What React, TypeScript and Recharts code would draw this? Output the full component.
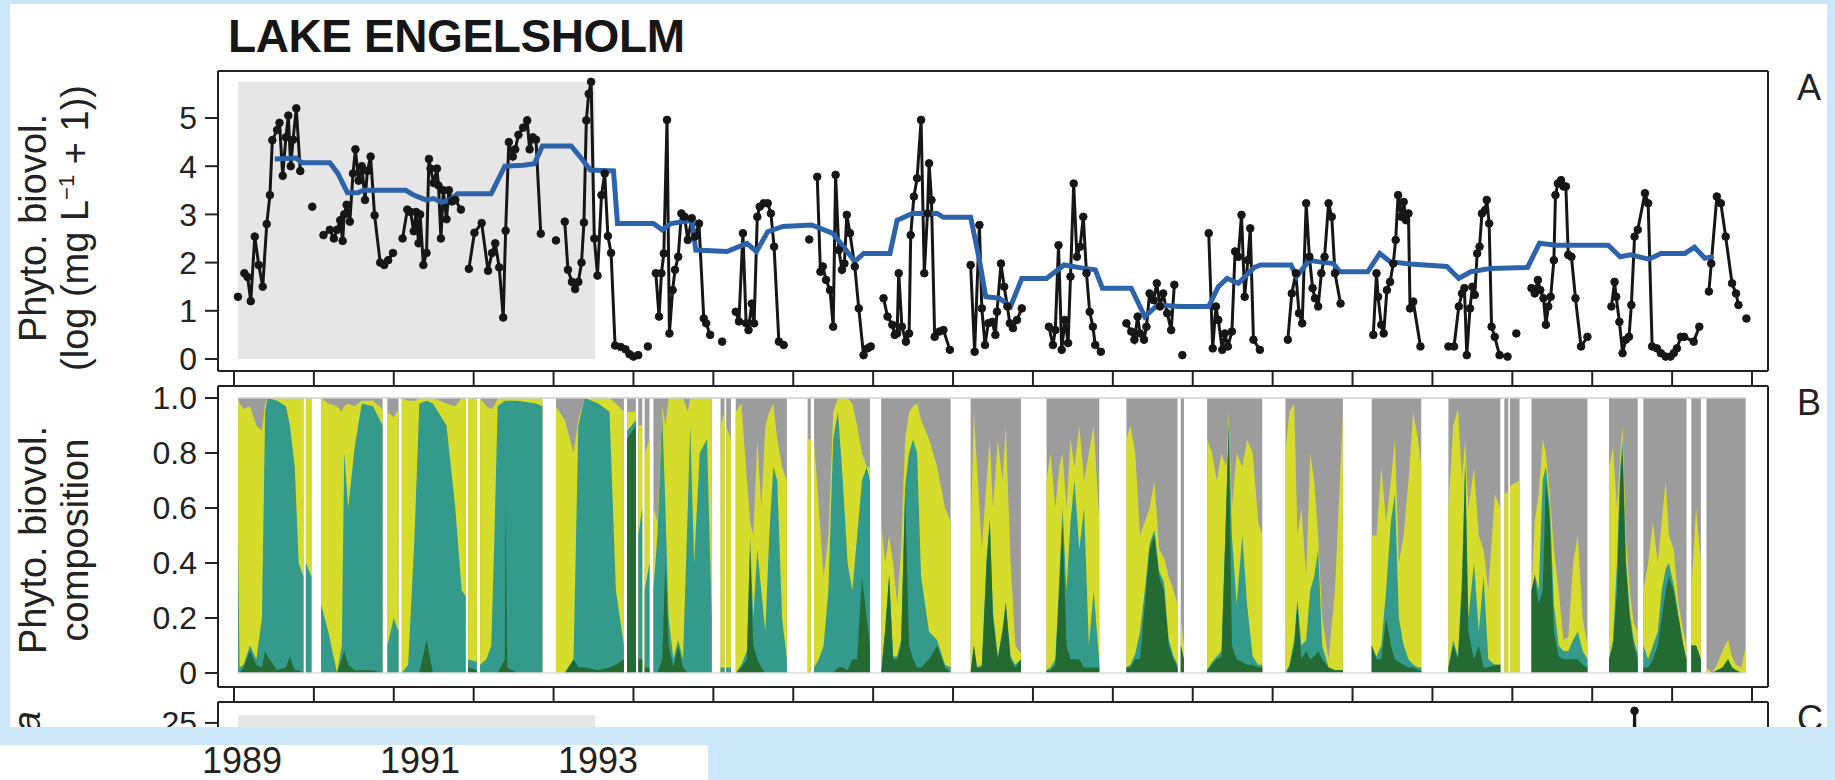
import React from "react";
import { Area, AreaChart, Line, LineChart, ReferenceArea, ReferenceLine, XAxis, YAxis } from "recharts";

const FONT = "'Liberation Sans', Arial, Helvetica, sans-serif";
const INK = "#222";
const PAGE_BG = "#cbe7f9";
const SHADE = "#e6e6e6";
const BLUE = "#2d63aa";
const DARK_GREEN = "#236b33";
const TEAL = "#349a8c";
const YELLOW = "#d5dc2b";
const GRAY = "#9c9c9c";

const YEARS = [1989, 1990, 1991, 1992, 1993, 1994, 1995, 1996, 1997, 1998, 1999, 2000, 2001, 2002, 2003, 2004, 2005, 2006, 2007, 2008];
const X_DOMAIN: [number, number] = [1988.8, 2008.2];
const BIO_TICKS = [0, 1, 2, 3, 4, 5];
const COMP_TICKS = [0, 0.2, 0.4, 0.6, 0.8, 1];
const CHL_TICKS = [0, 5, 10, 15, 20, 25];
const BOTTOM_YEARS = ["1989", "1991", "1993"];

// shaded early period (years) and its height in panel A / C units
const shadedPeriod = [1989.05, 1993.52];
const shadedTopA = 5.75;
const shadedTopC = 25.7;

// panel A: sampled biovolume, null = break in the line
const bioPoints: [number, number | null][] = [
  [1989.05, 1.29], [1989.09, null],
  [1989.13, 1.78], [1989.17, 1.7], [1989.21, 1.2], [1989.26, 2.54], [1989.31, 1.95], [1989.36, 1.5],
  [1989.41, 2.8], [1989.45, 3.4], [1989.48, 4.54], [1989.54, 4.75], [1989.57, 4.9], [1989.61, 3.8],
  [1989.65, 4.6], [1989.68, 5.05], [1989.71, 4.0], [1989.74, 4.55], [1989.78, 5.2], [1989.83, 3.9],
  [1989.9, null], [1989.98, 3.16], [1990.05, null],
  [1990.12, 2.57], [1990.2, 2.68], [1990.25, 2.5], [1990.29, 2.68], [1990.33, 2.88], [1990.36, 2.45],
  [1990.38, 3.0], [1990.41, 3.2], [1990.45, 2.85], [1990.49, 3.85], [1990.52, 4.35], [1990.56, 3.7],
  [1990.6, 4.0], [1990.64, 3.3], [1990.67, 3.9], [1990.71, 4.2], [1990.76, 2.98], [1990.83, 2.0],
  [1990.88, 1.95], [1990.93, 2.05], [1990.99, 2.2], [1991.05, null],
  [1991.11, 2.5], [1991.17, 3.1], [1991.21, 3.05], [1991.25, 2.65], [1991.28, 3.05], [1991.31, 2.4],
  [1991.33, 3.0], [1991.37, 1.95], [1991.41, 2.2], [1991.44, 4.15], [1991.46, 3.95], [1991.5, 3.65],
  [1991.54, 3.95], [1991.56, 3.6], [1991.59, 2.5], [1991.62, 3.5], [1991.66, 2.9], [1991.69, 3.5],
  [1991.73, 3.27], [1991.77, 3.3], [1991.84, 3.1], [1991.89, null],
  [1991.94, 1.87], [1992.01, 2.62], [1992.1, 2.82], [1992.18, 1.83], [1992.23, 2.2], [1992.27, 2.4],
  [1992.32, 1.9], [1992.37, 0.86], [1992.4, 2.66], [1992.44, 4.5], [1992.49, 4.2], [1992.52, 4.35],
  [1992.56, 4.65], [1992.62, 4.8], [1992.67, 4.95], [1992.7, 4.35], [1992.74, 4.6], [1992.78, 4.55],
  [1992.84, 2.6], [1992.94, null], [1993.03, 2.46], [1993.09, null],
  [1993.14, 2.85], [1993.18, 1.85], [1993.23, 1.6], [1993.27, 1.45], [1993.31, 1.6], [1993.35, 2.0],
  [1993.38, 2.83], [1993.41, 4.95], [1993.44, 5.5], [1993.47, 5.75], [1993.51, 2.5], [1993.55, 1.73],
  [1993.6, 3.4], [1993.64, 3.85], [1993.68, 2.55], [1993.72, 2.2], [1993.77, 0.28], [1993.84, 0.25],
  [1993.9, 0.2], [1993.95, 0.1], [1994.0, 0.05], [1994.06, 0.08], [1994.12, null], [1994.18, 0.26], [1994.23, null],
  [1994.28, 1.78], [1994.32, 0.88], [1994.35, 1.78], [1994.38, 2.19], [1994.42, 4.96], [1994.45, 0.53],
  [1994.49, 1.43], [1994.52, 1.85], [1994.56, 2.12], [1994.6, 3.02], [1994.64, 2.95], [1994.68, 2.47],
  [1994.73, 2.92], [1994.77, 2.54], [1994.82, 2.81], [1994.88, 0.84], [1994.91, 0.74], [1994.96, 0.5],
  [1995.03, null], [1995.11, 0.36], [1995.2, null],
  [1995.28, 0.98], [1995.32, 0.78], [1995.37, 2.61], [1995.41, 0.74], [1995.44, 0.6], [1995.48, 1.15],
  [1995.51, 0.74], [1995.55, 2.95], [1995.58, 3.16], [1995.63, 3.23], [1995.68, 3.23], [1995.72, 3.02],
  [1995.76, 2.33], [1995.82, 0.36], [1995.88, 0.29], [1996.05, null], [1996.2, 2.48], [1996.25, null],
  [1996.3, 3.78], [1996.34, 1.81], [1996.37, 1.92], [1996.41, 1.64], [1996.46, 1.43], [1996.5, 0.67],
  [1996.53, 3.82], [1996.57, 2.26], [1996.61, 1.85], [1996.64, 1.98], [1996.67, 2.99], [1996.71, 2.61],
  [1996.77, 1.92], [1996.82, 1.05], [1996.88, 0.08], [1996.93, 0.22], [1996.97, 0.26], [1997.05, null],
  [1997.13, 1.26], [1997.18, 0.88], [1997.24, 0.71], [1997.27, 0.5], [1997.3, 0.53], [1997.32, 1.78],
  [1997.36, 0.67], [1997.41, 0.36], [1997.45, 0.53], [1997.47, 2.57], [1997.51, 3.37], [1997.55, 3.75],
  [1997.6, 4.96], [1997.64, 1.78], [1997.68, 3.02], [1997.7, 4.06], [1997.73, 3.3], [1997.77, 0.46],
  [1997.83, 0.57], [1997.88, 0.6], [1997.96, 0.19], [1998.1, null],
  [1998.22, 1.95], [1998.27, 0.15], [1998.33, 2.78], [1998.36, 1.05], [1998.4, 0.29], [1998.44, 0.74],
  [1998.49, 0.77], [1998.53, 0.5], [1998.55, 0.98], [1998.6, 1.98], [1998.64, 1.5], [1998.68, 1.09],
  [1998.71, 0.74], [1998.75, 0.64], [1998.8, 0.81], [1998.86, 1.05], [1999.0, null],
  [1999.2, 0.67], [1999.25, 0.29], [1999.28, 0.6], [1999.32, 2.36], [1999.36, 0.19], [1999.4, 0.81],
  [1999.44, 0.33], [1999.47, 1.71], [1999.51, 3.64], [1999.55, 2.12], [1999.59, 2.33], [1999.63, 2.95],
  [1999.67, 1.78], [1999.71, 0.98], [1999.75, 0.67], [1999.78, 0.29], [1999.85, 0.15], [2000.0, null],
  [2000.17, 0.74], [2000.23, 0.57], [2000.27, 0.4], [2000.31, 0.88], [2000.34, 0.53], [2000.39, 0.4],
  [2000.42, 0.67], [2000.46, 1.36], [2000.51, 1.22], [2000.55, 1.57], [2000.59, 1.09], [2000.63, 1.36],
  [2000.68, 0.95], [2000.73, 0.6], [2000.77, 1.54], [2000.82, null], [2000.87, 0.08], [2001.0, null],
  [2001.2, 2.61], [2001.25, 0.22], [2001.29, 1.09], [2001.32, 0.81], [2001.37, 0.19], [2001.4, 0.53],
  [2001.44, 0.26], [2001.49, 0.57], [2001.53, 2.23], [2001.57, 2.12], [2001.61, 2.99], [2001.65, 1.29],
  [2001.69, 2.05], [2001.72, 2.71], [2001.76, 0.4], [2001.84, 0.19], [2002.0, null],
  [2002.19, 0.4], [2002.24, 1.36], [2002.29, 1.78], [2002.33, 0.95], [2002.37, 0.74], [2002.42, 3.23],
  [2002.46, 2.12], [2002.5, 1.47], [2002.53, 1.26], [2002.57, 1.09], [2002.61, 1.78], [2002.65, 2.12],
  [2002.7, 3.23], [2002.74, 2.95], [2002.78, 1.78], [2002.85, 1.15], [2003.05, null],
  [2003.26, 0.5], [2003.3, 1.78], [2003.32, 1.29], [2003.36, 0.71], [2003.39, 0.53], [2003.43, 1.43],
  [2003.47, 1.6], [2003.51, 1.98], [2003.54, 2.47], [2003.57, 3.4], [2003.61, 2.95], [2003.64, 3.26],
  [2003.67, 2.88], [2003.7, 3.02], [2003.72, 1.05], [2003.76, 1.19], [2003.85, 0.26], [2004.0, null],
  [2004.2, 0.26], [2004.27, 0.26], [2004.33, 1.09], [2004.37, 1.36], [2004.4, 1.47], [2004.43, 0.08],
  [2004.47, 1.05], [2004.5, 1.5], [2004.53, 1.33], [2004.56, 2.19], [2004.59, 2.33], [2004.62, 3.02],
  [2004.66, 3.09], [2004.68, 3.3], [2004.71, 2.81], [2004.74, 0.67], [2004.78, 0.46], [2004.84, 0.08],
  [2004.94, 0.05], [2005.0, null], [2005.05, 0.53], [2005.15, null],
  [2005.24, 1.47], [2005.28, 1.36], [2005.32, 1.64], [2005.35, 1.43], [2005.39, 1.26], [2005.42, 0.71],
  [2005.45, 1.09], [2005.48, 1.29], [2005.52, 2.05], [2005.54, 3.4], [2005.57, 3.64], [2005.61, 3.71],
  [2005.64, 3.58], [2005.67, 3.58], [2005.7, 2.16], [2005.74, 2.12], [2005.79, 1.26], [2005.86, 0.26],
  [2005.94, 0.46], [2006.1, null],
  [2006.24, 1.09], [2006.28, 1.6], [2006.3, 1.29], [2006.34, 0.77], [2006.38, 0.12], [2006.42, 0.4],
  [2006.46, 0.46], [2006.49, 1.12], [2006.53, 2.54], [2006.57, 2.68], [2006.66, 3.44], [2006.7, 3.23],
  [2006.75, 0.26], [2006.81, 0.22], [2006.86, 0.12], [2006.92, 0.05], [2006.98, 0.05], [2007.02, 0.12],
  [2007.06, 0.22], [2007.11, 0.46], [2007.15, 0.46], [2007.27, 0.36], [2007.34, 0.67], [2007.4, null],
  [2007.46, 1.4], [2007.49, 1.98], [2007.56, 3.37], [2007.61, 3.23], [2007.67, 2.54], [2007.75, 1.57],
  [2007.8, 1.36], [2007.83, 1.12], [2007.88, null], [2007.93, 0.84],
];

// panel A: running mean (blue)
const bioMean: [number, number][] = [
  [1989.51, 4.15], [1989.78, 4.17], [1989.85, 4.07], [1990.2, 4.07], [1990.3, 3.85], [1990.42, 3.45],
  [1990.55, 3.45], [1990.62, 3.5], [1991.15, 3.5], [1991.25, 3.4], [1991.4, 3.3], [1991.5, 3.33],
  [1991.6, 3.25], [1991.7, 3.3], [1991.8, 3.43], [1992.22, 3.43], [1992.39, 4.0], [1992.62, 4.02],
  [1992.76, 4.05], [1992.86, 4.42], [1993.22, 4.42], [1993.33, 4.2], [1993.46, 3.92], [1993.75, 3.9],
  [1993.8, 2.81], [1994.25, 2.81], [1994.36, 2.68], [1994.47, 2.81], [1994.73, 2.88], [1994.78, 2.26],
  [1995.17, 2.23], [1995.42, 2.4], [1995.54, 2.23], [1995.68, 2.64], [1995.87, 2.75], [1996.23, 2.78],
  [1996.49, 2.61], [1996.63, 2.33], [1996.77, 2.02], [1996.88, 2.19], [1997.21, 2.19], [1997.3, 2.88],
  [1997.49, 3.02], [1997.8, 3.02], [1997.88, 2.94], [1998.22, 2.94], [1998.33, 2.05], [1998.41, 1.29],
  [1998.58, 1.26], [1998.72, 1.09], [1998.86, 1.67], [1999.17, 1.67], [1999.39, 1.95], [1999.64, 1.88],
  [1999.78, 1.85], [1999.87, 1.47], [2000.23, 1.47], [2000.4, 0.88], [2000.56, 1.12], [2000.84, 1.09],
  [2001.2, 1.09], [2001.32, 1.5], [2001.43, 1.67], [2001.57, 1.57], [2001.77, 1.9], [2001.85, 1.95],
  [2002.23, 1.95], [2002.3, 1.71], [2002.46, 2.05], [2002.56, 2.02], [2002.76, 1.98], [2002.84, 1.81],
  [2003.19, 1.81], [2003.34, 2.19], [2003.47, 2.02], [2003.72, 1.97], [2004.18, 1.92], [2004.33, 1.67],
  [2004.48, 1.81], [2004.73, 1.88], [2005.19, 1.9], [2005.34, 2.4], [2005.54, 2.36], [2006.2, 2.36],
  [2006.35, 2.12], [2006.48, 2.16], [2006.71, 2.07], [2006.86, 2.19], [2007.16, 2.19], [2007.28, 2.32],
  [2007.41, 2.09], [2007.52, 2.12],
];

// panel B: cumulative shares from the bottom [t, dark green, +teal, +yellow]; grey fills to 1; null = no sample
const compRows: [number, number | null, number | null, number | null][] = [
  [1989.05, 0, 0.5, 1], [1989.07, 0, 0.02, 0.98], [1989.12, 0.02, 0.03, 0.96], [1989.2, 0.08, 0.1, 0.97],
  [1989.28, 0.03, 0.05, 0.9], [1989.35, 0.02, 0.2, 0.88], [1989.39, 0.08, 0.95, 0.98], [1989.42, 0.06, 1, 1],
  [1989.54, 0.01, 0.99, 1], [1989.65, 0.02, 0.97, 1], [1989.7, 0.06, 0.9, 1], [1989.76, 0.01, 0.75, 1],
  [1989.81, 0.01, 0.4, 1], [1989.87, 0, 0.35, 1], [1989.885, null, null, null],
  [1989.9, 0, 0.4, 1], [1989.97, 0, 0.35, 1], [1990.03, null, null, null],
  [1990.09, 0, 0.25, 1], [1990.18, 0, 0.15, 0.98], [1990.29, 0, 0, 0.97], [1990.35, 0.05, 0.1, 0.95],
  [1990.38, 0.08, 0.8, 0.97], [1990.43, 0.03, 0.6, 0.98], [1990.51, 0.01, 0.82, 0.97], [1990.6, 0.01, 0.98, 0.99],
  [1990.74, 0.01, 0.97, 0.99], [1990.86, 0, 0.9, 0.96], [1990.89, null, null, null],
  [1990.92, 0, 0.1, 0.95], [1991.0, 0, 0.2, 0.93], [1991.06, 0, 0.15, 0.96], [1991.08, null, null, null],
  [1991.1, 0, 0, 1], [1991.18, 0, 0.03, 0.99], [1991.26, 0, 0.5, 0.99], [1991.32, 0, 0.98, 1],
  [1991.41, 0.12, 0.99, 1], [1991.49, 0, 0.98, 1], [1991.66, 0, 0.9, 0.98], [1991.77, 0, 0.6, 0.97],
  [1991.85, 0, 0.3, 1], [1991.9, 0, 0.28, 1], [1991.915, null, null, null],
  [1991.93, 0.02, 0.05, 1], [1992.04, 0.01, 0.04, 1], [1992.06, null, null, null],
  [1992.08, 0, 0.03, 1], [1992.16, 0, 0.05, 0.97], [1992.22, 0, 0.1, 0.96], [1992.26, 0, 0.5, 0.97],
  [1992.3, 0, 0.97, 1], [1992.39, 0.05, 0.99, 1], [1992.4, 0.62, 0.99, 1], [1992.42, 0.02, 0.99, 1],
  [1992.55, 0, 0.99, 1], [1992.78, 0, 0.98, 1], [1992.86, 0, 0.97, 1], [1992.95, null, null, null],
  [1993.03, 0, 0, 0.97], [1993.14, 0, 0, 0.92], [1993.25, 0.05, 0.05, 0.8], [1993.31, 0.02, 0.9, 0.92],
  [1993.39, 0.02, 1, 1], [1993.56, 0.01, 0.98, 1], [1993.7, 0.02, 0.95, 1], [1993.78, 0.03, 0.3, 0.98],
  [1993.88, 0.05, 0.1, 0.95], [1993.895, null, null, null],
  [1993.92, 0.85, 0.88, 0.95], [1994.03, 0.9, 0.92, 0.95], [1994.045, null, null, null],
  [1994.06, 0.05, 0.5, 0.9], [1994.11, 0.05, 0.6, 0.9], [1994.115, null, null, null],
  [1994.14, 0.02, 0.3, 0.8], [1994.2, 0.02, 0.4, 0.85], [1994.225, null, null, null],
  [1994.25, 0, 0.3, 0.6], [1994.3, 0, 0.5, 0.55], [1994.36, 0.05, 0.95, 0.97], [1994.4, 0.4, 0.6, 0.9],
  [1994.44, 0.1, 0.2, 1], [1994.5, 0.02, 0.05, 1], [1994.56, 0.1, 0.12, 1], [1994.62, 0.02, 0.05, 1],
  [1994.68, 0, 0.6, 0.95], [1994.71, 0, 0.9, 1], [1994.76, 0, 0.4, 1], [1994.83, 0, 0.8, 1],
  [1994.92, 0, 0.85, 1], [1994.98, 0, 0.2, 1], [1995.04, null, null, null],
  [1995.09, 0, 0.02, 0.9], [1995.14, 0, 0.02, 0.95], [1995.15, null, null, null],
  [1995.16, 0, 0.02, 0.9], [1995.22, 0, 0.02, 0.85], [1995.25, null, null, null],
  [1995.28, 0, 0, 0.95], [1995.35, 0.02, 0.03, 0.98], [1995.42, 0.05, 0.08, 0.7], [1995.46, 0.45, 0.5, 0.55],
  [1995.5, 0.1, 0.2, 0.5], [1995.55, 0.05, 0.45, 0.85], [1995.6, 0.02, 0.3, 0.6], [1995.65, 0, 0.15, 0.9],
  [1995.7, 0, 0.5, 0.95], [1995.75, 0, 0.75, 0.98], [1995.8, 0, 0.7, 0.85], [1995.86, 0, 0.2, 0.75],
  [1995.92, 0, 0.05, 0.7], [1996.05, null, null, null],
  [1996.18, 0, 0, 0.85], [1996.22, 0, 0, 0.85], [1996.24, null, null, null],
  [1996.26, 0, 0.02, 0.85], [1996.32, 0, 0.05, 0.6], [1996.38, 0, 0.1, 0.35], [1996.44, 0, 0.3, 0.5],
  [1996.5, 0, 0.85, 0.95], [1996.56, 0.02, 0.95, 1], [1996.62, 0.02, 0.7, 1], [1996.68, 0.01, 0.4, 1],
  [1996.74, 0.05, 0.3, 0.98], [1996.8, 0.05, 0.5, 0.9], [1996.86, 0.35, 0.7, 0.8], [1996.92, 0.2, 0.75, 0.75],
  [1996.96, 0.1, 0.7, 0.75], [1997.03, null, null, null],
  [1997.1, 0, 0, 0.55], [1997.15, 0.15, 0.16, 0.4], [1997.2, 0.35, 0.36, 0.5], [1997.25, 0.05, 0.06, 0.4],
  [1997.3, 0.05, 0.06, 0.25], [1997.35, 0.1, 0.12, 0.45], [1997.4, 0.65, 0.68, 0.85], [1997.45, 0.1, 0.8, 0.95],
  [1997.5, 0.05, 0.85, 0.97], [1997.55, 0.02, 0.8, 0.98], [1997.6, 0.02, 0.35, 0.92], [1997.7, 0.05, 0.15, 0.85],
  [1997.8, 0.1, 0.12, 0.75], [1997.9, 0.02, 0.03, 0.6], [1997.97, 0, 0.02, 0.55], [1998.1, null, null, null],
  [1998.22, 0, 0, 0.5], [1998.26, 0.1, 0.1, 0.95], [1998.3, 0.02, 0.02, 0.75], [1998.36, 0.02, 0.03, 0.45],
  [1998.42, 0.4, 0.42, 0.7], [1998.46, 0.55, 0.56, 0.85], [1998.5, 0.2, 0.22, 0.6], [1998.56, 0.05, 0.06, 0.85],
  [1998.62, 0.15, 0.16, 0.7], [1998.66, 0.25, 0.26, 0.9], [1998.72, 0.05, 0.06, 0.4], [1998.78, 0.02, 0.03, 0.1],
  [1998.85, 0.05, 0.05, 0.07], [1999.0, null, null, null],
  [1999.17, 0.01, 0.01, 0.7], [1999.22, 0.01, 0.02, 0.8], [1999.28, 0.03, 0.05, 0.6], [1999.33, 0.3, 0.35, 0.75],
  [1999.37, 0.55, 0.6, 0.8], [1999.42, 0.1, 0.3, 0.6], [1999.47, 0.05, 0.55, 0.85], [1999.52, 0.05, 0.7, 0.75],
  [1999.58, 0.05, 0.45, 0.9], [1999.64, 0.02, 0.6, 0.7], [1999.7, 0.02, 0.1, 0.8], [1999.76, 0.02, 0.3, 0.9],
  [1999.83, 0.02, 0.04, 0.55], [2000.0, null, null, null],
  [2000.17, 0.02, 0.02, 0.85], [2000.22, 0.02, 0.03, 0.9], [2000.28, 0.05, 0.07, 0.8], [2000.34, 0.05, 0.15, 0.5],
  [2000.4, 0.25, 0.3, 0.55], [2000.46, 0.45, 0.47, 0.6], [2000.52, 0.5, 0.52, 0.7], [2000.58, 0.35, 0.37, 0.45],
  [2000.64, 0.3, 0.33, 0.42], [2000.7, 0.1, 0.12, 0.35], [2000.76, 0.05, 0.06, 0.3], [2000.81, 0.02, 0.03, 0.25],
  [2000.83, null, null, null], [2000.85, 0.1, 0.1, 0.2], [2000.89, 0.05, 0.05, 0.1], [2001.05, null, null, null],
  [2001.18, 0.01, 0.01, 0.85], [2001.24, 0.03, 0.04, 0.8], [2001.3, 0.05, 0.06, 0.7], [2001.36, 0.06, 0.08, 0.8],
  [2001.42, 0.6, 0.62, 0.75], [2001.45, 0.9, 0.92, 0.95], [2001.49, 0.1, 0.5, 0.6], [2001.55, 0.05, 0.25, 0.8],
  [2001.62, 0.04, 0.5, 0.75], [2001.68, 0.03, 0.25, 0.85], [2001.75, 0.03, 0.06, 0.8], [2001.82, 0.02, 0.03, 0.55],
  [2001.87, 0.02, 0.03, 0.5], [2002.0, null, null, null],
  [2002.16, 0, 0, 0.8], [2002.21, 0.02, 0.03, 0.95], [2002.27, 0.1, 0.12, 0.98], [2002.31, 0.25, 0.27, 0.5],
  [2002.36, 0.05, 0.1, 0.6], [2002.42, 0.08, 0.12, 0.35], [2002.47, 0.05, 0.3, 0.8], [2002.52, 0.06, 0.35, 0.7],
  [2002.57, 0.08, 0.45, 0.5], [2002.62, 0.05, 0.1, 0.2], [2002.7, 0.02, 0.02, 0.05], [2002.78, 0.01, 0.01, 0.3],
  [2002.88, 0.01, 0.01, 0.95], [2003.05, null, null, null],
  [2003.24, 0.1, 0.1, 0.5], [2003.3, 0.05, 0.06, 0.5], [2003.36, 0.05, 0.1, 0.75], [2003.42, 0.2, 0.3, 0.55],
  [2003.48, 0.1, 0.55, 0.7], [2003.53, 0.05, 0.65, 0.85], [2003.58, 0.04, 0.2, 0.4], [2003.64, 0.03, 0.1, 0.5],
  [2003.7, 0.02, 0.05, 0.7], [2003.76, 0.02, 0.03, 0.95], [2003.82, 0.01, 0.02, 0.85], [2003.86, 0.01, 0.02, 0.75],
  [2004.03, null, null, null],
  [2004.2, 0.02, 0.02, 0.6], [2004.26, 0.1, 0.12, 0.9], [2004.32, 0.05, 0.06, 0.96], [2004.37, 0.3, 0.35, 0.7],
  [2004.41, 0.75, 0.78, 0.85], [2004.45, 0.15, 0.2, 0.6], [2004.52, 0.05, 0.4, 0.75], [2004.58, 0.1, 0.15, 0.5],
  [2004.64, 0.02, 0.35, 0.45], [2004.7, 0.02, 0.05, 0.3], [2004.78, 0.03, 0.03, 0.65], [2004.85, 0.03, 0.03, 0.6],
  [2004.875, null, null, null], [2004.9, 0, 0, 0.65], [2004.95, 0, 0, 0.66], [2004.96, null, null, null],
  [2004.97, 0, 0, 0.68], [2005.09, 0, 0, 0.7], [2005.16, null, null, null],
  [2005.24, 0.3, 0.3, 0.3], [2005.28, 0.35, 0.36, 0.55], [2005.33, 0.25, 0.3, 0.65], [2005.38, 0.3, 0.7, 0.85],
  [2005.42, 0.7, 0.75, 0.8], [2005.47, 0.55, 0.6, 0.65], [2005.52, 0.15, 0.25, 0.45], [2005.58, 0.06, 0.1, 0.3],
  [2005.64, 0.05, 0.08, 0.12], [2005.7, 0.05, 0.08, 0.13], [2005.76, 0.05, 0.12, 0.4], [2005.82, 0.05, 0.15, 0.5],
  [2005.88, 0.03, 0.08, 0.2], [2005.94, 0.02, 0.05, 0.1], [2006.08, null, null, null],
  [2006.21, 0.05, 0.05, 0.75], [2006.26, 0.1, 0.12, 0.82], [2006.31, 0.3, 0.4, 0.6], [2006.35, 0.7, 0.75, 0.8],
  [2006.38, 0.8, 0.85, 0.9], [2006.42, 0.4, 0.42, 0.5], [2006.47, 0.2, 0.22, 0.3], [2006.52, 0.1, 0.12, 0.18],
  [2006.57, 0.05, 0.07, 0.15], [2006.61, null, null, null],
  [2006.64, 0.02, 0.1, 0.3], [2006.7, 0.02, 0.05, 0.4], [2006.76, 0.05, 0.1, 0.55], [2006.82, 0.1, 0.15, 0.4],
  [2006.87, 0.2, 0.3, 0.55], [2006.92, 0.3, 0.38, 0.7], [2006.96, 0.35, 0.4, 0.5], [2007.02, 0.3, 0.32, 0.45],
  [2007.08, 0.2, 0.21, 0.25], [2007.14, 0.1, 0.1, 0.15], [2007.18, 0.05, 0.05, 0.1], [2007.21, null, null, null],
  [2007.24, 0.1, 0.1, 0.3], [2007.3, 0.1, 0.1, 0.6], [2007.36, 0.05, 0.05, 0.4], [2007.4, null, null, null],
  [2007.43, 0, 0, 0.02], [2007.5, 0, 0, 0], [2007.56, 0.01, 0.01, 0.03], [2007.63, 0.02, 0.02, 0.08],
  [2007.7, 0.05, 0.05, 0.12], [2007.75, 0.02, 0.02, 0.06], [2007.8, 0.01, 0.01, 0.03], [2007.87, 0, 0, 0.02],
  [2007.92, 0, 0, 0.1],
];

// panel C: only the top of the panel is visible
const chlPoints: [number, number][] = [
  [2006.5, 12], [2006.53, 26.1], [2006.56, 12],
];

const bioData = bioPoints.map(([t, v]) => ({ t, v }));
const meanData = bioMean.map(([t, v]) => ({ t, v }));
const compData = compRows.map(([t, dg, tl, yl]) => ({ t, dg, tl, yl, gr: yl === null ? null : 1 }));
const chlData = chlPoints.map(([t, v]) => ({ t, v }));

const compStart = compRows[0][0];
const compEnd = compRows[compRows.length - 1][0];

const AXIS_LINE = { stroke: INK, strokeWidth: 2 };
const TICK_TEXT = { fill: INK, fontSize: 32, fontFamily: FONT };
const DOT = { r: 3.8, fill: "#161616", stroke: "#161616", strokeWidth: 1 };
const NoLabel = () => <g />;
const W = 1835;
const SIDE = { right: 66, left: 158 };

export default function App() {
  return (
    <div style={{ position: "absolute", left: 0, top: 0, width: W, height: 780, overflow: "hidden", background: PAGE_BG }}>
      <div style={{ position: "absolute", left: 10, top: 4, width: 1817, height: 723, background: "#fff" }} />

      {/* A: biovolume */}
      <div style={{ position: "absolute", left: 0, top: 0 }}>
        <LineChart width={W} height={400} margin={{ top: 70, bottom: 14, ...SIDE }}>
          <XAxis dataKey="t" type="number" domain={X_DOMAIN} ticks={YEARS} interval={0} tick={NoLabel}
            tickSize={15} height={15} axisLine={AXIS_LINE} tickLine={AXIS_LINE} />
          <XAxis xAxisId="top" orientation="top" dataKey="t" type="number" domain={X_DOMAIN} tick={false}
            tickLine={false} height={1} axisLine={AXIS_LINE} />
          <YAxis type="number" domain={[-0.249, 5.975]} ticks={BIO_TICKS} interval={0} width={60} tickSize={13}
            tickMargin={8} tick={TICK_TEXT} axisLine={AXIS_LINE} tickLine={AXIS_LINE} />
          <YAxis yAxisId="r" orientation="right" type="number" domain={[0, 1]} width={1} tick={false}
            tickLine={false} axisLine={AXIS_LINE} />
          <ReferenceArea x1={shadedPeriod[0]} x2={shadedPeriod[1]} y1={0} y2={shadedTopA} fill={SHADE}
            fillOpacity={1} stroke="none" />
          <Line data={bioData} dataKey="v" type="linear" stroke="#161616" strokeWidth={3} connectNulls={false}
            dot={DOT} activeDot={false} isAnimationActive={false} />
          <Line data={meanData} dataKey="v" type="linear" stroke={BLUE} strokeWidth={5} dot={false}
            activeDot={false} isAnimationActive={false} />
        </LineChart>
      </div>

      {/* B: composition */}
      <div style={{ position: "absolute", left: 0, top: 380 }}>
        <AreaChart width={W} height={330} data={compData} margin={{ top: 5, bottom: 8, ...SIDE }}>
          <XAxis dataKey="t" type="number" domain={X_DOMAIN} ticks={YEARS} interval={0} tick={NoLabel}
            tickSize={15} height={15} axisLine={AXIS_LINE} tickLine={AXIS_LINE} />
          <XAxis xAxisId="top" orientation="top" dataKey="t" type="number" domain={X_DOMAIN} tick={false}
            tickLine={false} height={1} axisLine={AXIS_LINE} />
          <YAxis type="number" domain={[-0.0509, 1.0436]} ticks={COMP_TICKS} interval={0} width={60} tickSize={13}
            tickMargin={8} tick={TICK_TEXT} axisLine={AXIS_LINE} tickLine={AXIS_LINE}
            tickFormatter={(v: number) => (v === 0 ? "0" : v.toFixed(1))} />
          <YAxis yAxisId="r" orientation="right" type="number" domain={[0, 1]} width={1} tick={false}
            tickLine={false} axisLine={AXIS_LINE} />
          <ReferenceLine segment={[{ x: compStart, y: 1 }, { x: compEnd, y: 1 }]} stroke="#cfcfcf" strokeWidth={1.5} />
          <ReferenceLine segment={[{ x: compStart, y: 0 }, { x: compEnd, y: 0 }]} stroke="#dcdcdc" strokeWidth={1.5} />
          <Area dataKey="gr" type="linear" fill={GRAY} fillOpacity={1} stroke="none" baseValue={0}
            connectNulls={false} dot={false} activeDot={false} isAnimationActive={false} />
          <Area dataKey="yl" type="linear" fill={YELLOW} fillOpacity={1} stroke="none" baseValue={0}
            connectNulls={false} dot={false} activeDot={false} isAnimationActive={false} />
          <Area dataKey="tl" type="linear" fill={TEAL} fillOpacity={1} stroke="none" baseValue={0}
            connectNulls={false} dot={false} activeDot={false} isAnimationActive={false} />
          <Area dataKey="dg" type="linear" fill={DARK_GREEN} fillOpacity={1} stroke="none" baseValue={0}
            connectNulls={false} dot={false} activeDot={false} isAnimationActive={false} />
        </AreaChart>
      </div>

      {/* C: only its top edge shows */}
      <div style={{ position: "absolute", left: 0, top: 690 }}>
        <LineChart width={W} height={330} margin={{ top: 11, bottom: 2, ...SIDE }}>
          <XAxis dataKey="t" type="number" domain={X_DOMAIN} ticks={YEARS} interval={0} tick={NoLabel}
            tickSize={15} height={15} axisLine={AXIS_LINE} tickLine={AXIS_LINE} />
          <XAxis xAxisId="top" orientation="top" dataKey="t" type="number" domain={X_DOMAIN} tick={false}
            tickLine={false} height={1} axisLine={AXIS_LINE} />
          <YAxis type="number" domain={[-0.45, 26.9]} ticks={CHL_TICKS} interval={0} width={60} tickSize={13}
            tickMargin={8} tick={TICK_TEXT} axisLine={AXIS_LINE} tickLine={AXIS_LINE} />
          <YAxis yAxisId="r" orientation="right" type="number" domain={[0, 1]} width={1} tick={false}
            tickLine={false} axisLine={AXIS_LINE} />
          <ReferenceArea x1={shadedPeriod[0]} x2={shadedPeriod[1]} y1={0} y2={shadedTopC} fill={SHADE}
            fillOpacity={1} stroke="none" />
          <Line data={chlData} dataKey="v" type="linear" stroke="#161616" strokeWidth={3}
            dot={DOT} activeDot={false} isAnimationActive={false} />
        </LineChart>
      </div>

      <svg width={W} height={780} style={{ position: "absolute", left: 0, top: 0 }} fontFamily={FONT}>
        <text x={228} y={52} fontSize={46} fontWeight="bold" letterSpacing={-0.4} fill="#161616">LAKE ENGELSHOLM</text>
        <text x={1797} y={100} fontSize={36} fill={INK}>A</text>
        <text x={1797} y={415} fontSize={36} fill={INK}>B</text>
        <text x={1797} y={731} fontSize={36} fill={INK}>C</text>
        <text transform="translate(46 228) rotate(-90)" textAnchor="middle" fontSize={38} fill={INK}>Phyto. biovol.</text>
        <text transform="translate(88 228) rotate(-90)" textAnchor="middle" fontSize={38} fill={INK}>
          (log (mg L<tspan dy={-14} fontSize={22}>−1</tspan><tspan dy={14}> + 1))</tspan>
        </text>
        <text transform="translate(46 540) rotate(-90)" textAnchor="middle" fontSize={38} fill={INK}>Phyto. biovol.</text>
        <text transform="translate(88 540) rotate(-90)" textAnchor="middle" fontSize={38} fill={INK}>composition</text>
        <text transform="translate(40 711) rotate(-90)" textAnchor="end" fontSize={38} fill={INK}>
          Chl <tspan fontStyle="italic">a</tspan>
        </text>
        <rect x={0} y={727} width={W} height={53} fill={PAGE_BG} />
        <rect x={0} y={745} width={708} height={35} fill="#fff" />
        {BOTTOM_YEARS.map((y, i) => (
          <text key={y} x={242 + i * 178} y={773} textAnchor="middle" fontSize={36} fill={INK}>{y}</text>
        ))}
      </svg>
    </div>
  );
}
